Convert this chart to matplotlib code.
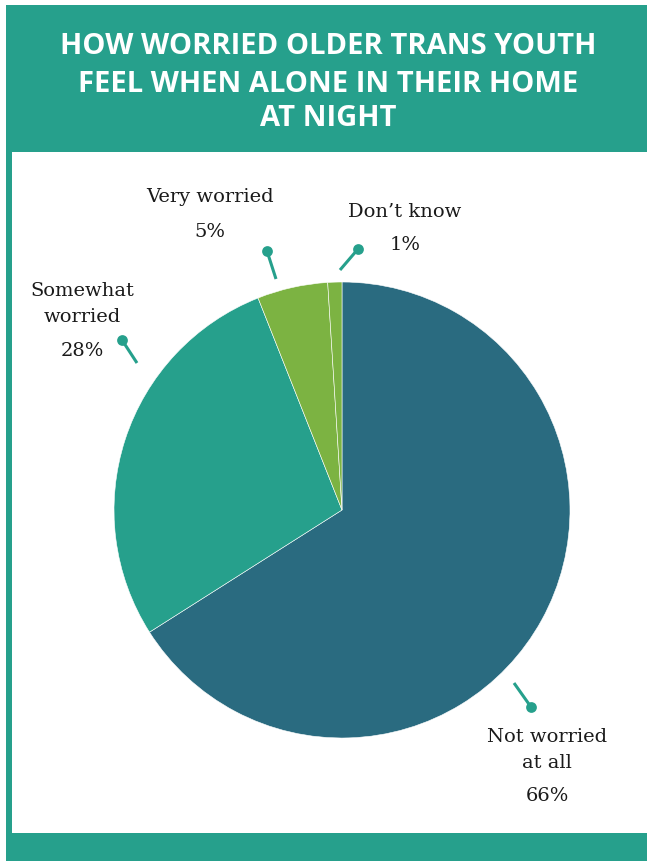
"""Pie chart: how worried older trans youth feel when alone at home at night."""
import matplotlib
matplotlib.use("Agg")
import matplotlib.pyplot as plt
from matplotlib.patches import Rectangle

W, H = 647, 861

# data (clockwise from 12 o'clock)
categories = ["Not worried\nat all", "Somewhat\nworried", "Very worried", "Don\u2019t know"]
values = [66, 28, 5, 1]
pct_labels = ["66%", "28%", "5%", "1%"]

TEAL = "#26a08c"
C_SLICE = ["#2a6b80", "#26a08c", "#7cb342", "#7cb342"]

# label layout in pixel coords (from top): x centre, y of first name line, y of pct,
# leader start and leader dot
LAYOUT = [
    dict(x=547, y=737, yp=796, seg=((514, 683), (531, 707))),
    dict(x=82, y=291, yp=351, seg=((137, 363), (122, 340))),
    dict(x=210, y=197, yp=232, seg=((276, 279), (267, 251))),
    dict(x=405, y=212, yp=245, seg=((340, 270), (358, 249))),
]

fig = plt.figure(figsize=(W / 100, H / 100), dpi=100)
ax = fig.add_axes([0, 0, 1, 1])
ax.set_xlim(0, W); ax.set_ylim(0, H)
ax.set_aspect("equal"); ax.axis("off")


def fy(y):  # pixel-from-top -> data y
    return H - y


# frame: left border, top band, bottom band
ax.add_patch(Rectangle((6, fy(861)), 6, 861 - 5, color=TEAL, lw=0))
ax.add_patch(Rectangle((6, fy(152)), W - 6, 152 - 5, color=TEAL, lw=0))
ax.add_patch(Rectangle((6, 0), W - 6, 861 - 833, color=TEAL, lw=0))

title_lines = ["HOW WORRIED OLDER TRANS YOUTH", "FEEL WHEN ALONE IN THEIR HOME", "AT NIGHT"]
for line, ty in zip(title_lines, [47, 84, 118]):
    ax.text(328, fy(ty), line, ha="center", va="center", color="white",
            fontsize=21, fontweight="bold", family="Open Sans")

ax.pie(values, colors=C_SLICE, startangle=90, counterclock=False,
       center=(342, fy(510)), radius=228,
       wedgeprops=dict(edgecolor="white", linewidth=0.4))
ax.set_xlim(0, W); ax.set_ylim(0, H)

for cat, pct, lay in zip(categories, pct_labels, LAYOUT):
    (x0, y0), (x1, y1) = lay["seg"]
    ax.plot([x0, x1], [fy(y0), fy(y1)], color=TEAL, lw=2.2, solid_capstyle="butt")
    ax.scatter([x1], [fy(y1)], s=60, color=TEAL, zorder=5, lw=0)
    for i, part in enumerate(cat.split("\n")):
        ax.text(lay["x"], fy(lay["y"] + 26 * i), part, ha="center", va="center",
                fontsize=14, family="DejaVu Serif", color="#1a1a1a")
    ax.text(lay["x"], fy(lay["yp"]), pct, ha="center", va="center",
            fontsize=14, family="DejaVu Serif", color="#1a1a1a")

fig.savefig("out.png", dpi=100)
